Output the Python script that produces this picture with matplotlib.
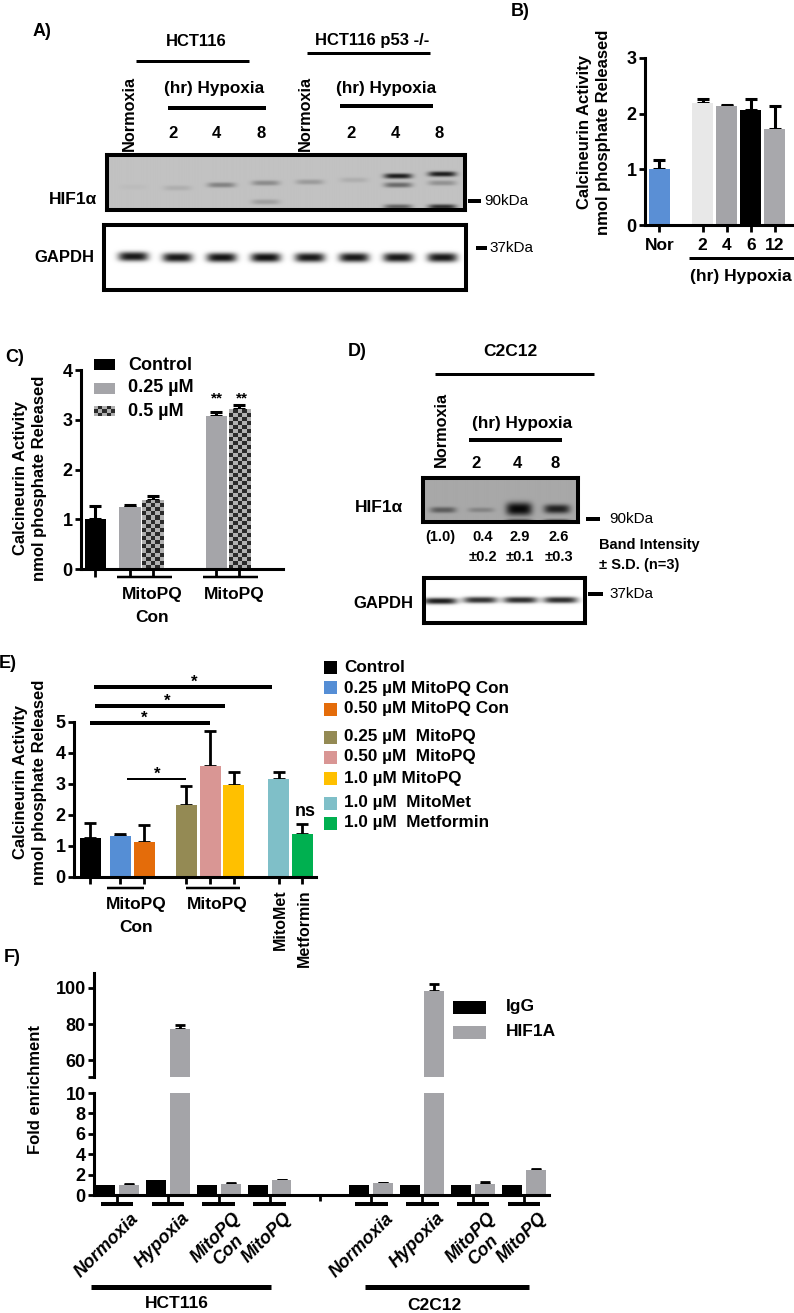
import numpy as np
import matplotlib
matplotlib.use('Agg')
import matplotlib.pyplot as plt
from matplotlib.lines import Line2D
from matplotlib.patches import Rectangle
from matplotlib.colors import ListedColormap
from matplotlib import font_manager as fm

plt.rcParams['font.family'] = ['Liberation Sans', 'DejaVu Sans']
plt.rcParams['font.weight'] = 'bold'
plt.rcParams['axes.labelweight'] = 'bold'

_avail = {f.name for f in fm.fontManager.ttflist}
if 'Liberation Sans Narrow' in _avail:
    NARROW = dict(family=['Liberation Sans Narrow', 'Liberation Sans', 'DejaVu Sans'])
    NS = 1.2
else:
    NARROW = dict(family=['Liberation Sans', 'DejaVu Sans'])
    NS = 1.0

# ======================= DATA =======================
# Panel A: western blot (HCT116 / HCT116 p53-/-), 8 lanes
A_lane_labels = ['Normoxia', '2', '4', '8', 'Normoxia', '2', '4', '8']
A_hif_lane = [0, 1, 2, 3, 3, 4, 5, 6, 6, 6, 7, 7, 7]
A_hif_mig = [32, 33, 30, 28, 47, 27, 25, 21, 30, 52, 19, 28, 52]
A_hif_int = [0.03, 0.10, 0.33, 0.28, 0.18, 0.20, 0.10, 0.85, 0.45, 0.50, 0.85, 0.25, 0.75]
A_gapdh_lane = [0, 1, 2, 3, 4, 5, 6, 7]
A_gapdh_mig = [32, 33, 33, 33, 33, 33, 33, 33]
A_gapdh_int = [0.90, 0.90, 0.92, 0.93, 0.90, 0.90, 0.90, 0.90]

# Panel B: calcineurin activity vs hypoxia time
B_cats = ['Nor', '2', '4', '6', '12']
B_vals = [1.00, 2.20, 2.14, 2.06, 1.72]
B_err = [0.17, 0.06, 0.02, 0.21, 0.42]
B_colors = ['#5a8fd5', '#e8e8e8', '#a4a4a8', '#000000', '#a8a8ac']

# Panel C: MitoPQ Con / MitoPQ
C_legend = ['Control', '0.25 µM', '0.5 µM']
C_series = ['Control', '0.25 µM', '0.5 µM', '0.25 µM', '0.5 µM']
C_vals = [1.00, 1.24, 1.39, 3.07, 3.21]
C_err = [0.26, 0.04, 0.08, 0.09, 0.08]

# Panel D: C2C12 blot
D_lane_labels = ['Normoxia', '2', '4', '8']
D_band_intensity = ['(1.0)', '0.4', '2.9', '2.6']
D_band_sd = ['', '±0.2', '±0.1', '±0.3']
D_hif_lane = [0, 1, 2, 3, 2, 3]
D_hif_mig = [32, 32, 31, 31, 42, 42]
D_hif_int = [0.45, 0.22, 0.95, 0.80, 0.35, 0.35]
D_hif_spread = [3.0, 2.5, 6.5, 4.5, 1.3, 1.3]
D_gapdh_lane = [0, 1, 2, 3]
D_gapdh_mig = [23, 22, 22, 22]
D_gapdh_int = [0.88, 0.80, 0.82, 0.82]

# Panel E
E_labels = ['Control', '0.25 µM MitoPQ Con', '0.50 µM MitoPQ Con', '0.25 µM  MitoPQ',
            '0.50 µM  MitoPQ', '1.0 µM MitoPQ', '1.0 µM  MitoMet', '1.0 µM  Metformin']
E_vals = [1.24, 1.31, 1.13, 2.31, 3.58, 2.95, 3.14, 1.38]
E_err = [0.48, 0.06, 0.54, 0.63, 1.12, 0.44, 0.25, 0.32]
E_colors = ['#000000', '#558ed5', '#e46c0a', '#948a54', '#d99694', '#ffc000', '#7fbfc8', '#00b050']

# Panel F: ChIP fold enrichment
F_conditions = ['Normoxia', 'Hypoxia', 'MitoPQ\nCon', 'MitoPQ']
F_cells = ['HCT116', 'C2C12']
F_igg = [1.0, 1.47, 1.0, 1.0, 1.0, 1.0, 1.0, 1.0]
F_hif = [1.0, 77.2, 1.1, 1.45, 1.15, 98.5, 1.1, 2.45]
F_hif_err = [0.1, 2.4, 0.1, 0.06, 0.06, 3.5, 0.2, 0.1]

# ======================= FIGURE =======================
W, H = 794, 1313
fig = plt.figure(figsize=(W / 100, H / 100), dpi=100)


def pax(x0, y0, x1, y1):
    return fig.add_axes([x0 / W, 1 - y1 / H, (x1 - x0) / W, (y1 - y0) / H])


def ftext(x, y, s, size=12, ha='center', va='center', **kw):
    return fig.text(x / W, 1 - y / H, s, fontsize=size, ha=ha, va=va, **kw)


def fline(x0, x1, y, lw_px=3):
    fig.add_artist(Line2D([x0 / W, x1 / W], [1 - y / H, 1 - y / H], lw=lw_px * 0.72,
                          color='black', solid_capstyle='butt', transform=fig.transFigure))


def frect(x0, y0, x1, y1, color):
    fig.add_artist(Rectangle((x0 / W, 1 - y1 / H), (x1 - x0) / W, (y1 - y0) / H,
                             transform=fig.transFigure, facecolor=color, edgecolor='none'))


def draw_blot(ax, lanes, migs, ints, spreads, bg, xlim, hpx, unit, hw):
    xs = np.linspace(xlim[0], xlim[1], 700)
    yy = np.linspace(0, hpx, int(hpx * 4))
    X, Y = np.meshgrid(xs, yy)
    img = np.full(X.shape, bg, float)
    for ln, yc, it, sy in zip(lanes, migs, ints, spreads):
        prof = np.exp(-(np.abs((X - ln) * unit) / hw) ** 4) * np.exp(-(np.abs(Y - yc) / sy) ** 2.5)
        img = img - it * bg * prof
    img = np.clip(img, 0, 1)
    ax.imshow(img, cmap='gray', vmin=0, vmax=1, extent=[xlim[0], xlim[1], hpx, 0],
              aspect='auto', interpolation='bilinear')
    ax.set_xlim(*xlim)
    ax.set_ylim(hpx, 0)
    ax.set_xticks([])
    ax.set_yticks([])
    for s in ax.spines.values():
        s.set_linewidth(2.9)


def style_axes(ax):
    for s in ['top', 'right']:
        ax.spines[s].set_visible(False)
    for s in ['left', 'bottom']:
        ax.spines[s].set_linewidth(2.2)


# ---------------- Panel A ----------------
ftext(42, 32, 'A)', size=13)
ftext(520, 11, 'B)', size=13)
ftext(196, 41, 'HCT116', size=12 * NS, **NARROW)
fline(136, 249, 61, 3)
ftext(372, 41, 'HCT116 p53 -/-', size=12 * NS, **NARROW)
fline(307, 430, 53, 3)
ftext(214, 88, '(hr) Hypoxia', size=12.3 * NS, **NARROW)
fline(168, 266, 108, 4)
ftext(386, 88, '(hr) Hypoxia', size=12.3 * NS, **NARROW)
fline(340, 433, 106, 4)
A_lane_px = [133, 176, 219, 264, 309, 354, 398, 442]
for xp, lab in zip(A_lane_px, A_lane_labels):
    if lab == 'Normoxia':
        ftext(xp - 4, 151, lab, size=11.7 * NS, rotation=90, va='bottom', **NARROW)
    else:
        ftext(xp - 3, 134, lab, size=12 * NS, **NARROW)

axA1 = pax(107, 155, 465, 210)
draw_blot(axA1, A_hif_lane, A_hif_mig, A_hif_int, [2.6] * len(A_hif_lane), 0.76,
          (-0.59, 7.51), 55, 44.2, 14)
axA2 = pax(104, 225, 466, 290)
draw_blot(axA2, A_gapdh_lane, A_gapdh_mig, A_gapdh_int, [4.6] * 8, 1.0,
          (-0.66, 7.53), 65, 44.2, 15)
ftext(73, 200, 'HIF1α', size=12.5 * NS, **NARROW)
ftext(64, 258, 'GAPDH', size=12 * NS, **NARROW)
fline(468, 481, 201, 4)
ftext(484, 201, '90kDa', size=11 * NS, ha='left', fontweight='normal', **NARROW)
fline(476, 487, 248, 4)
ftext(489, 248, '37kDa', size=11 * NS, ha='left', fontweight='normal', **NARROW)

# ---------------- Panel B ----------------
axB = pax(645, 58, 794, 225)
xB = np.array([0, 1.8, 2.8, 3.8, 4.8])
axB.bar(xB, B_vals, width=0.88, color=B_colors, zorder=2)
axB.errorbar(xB, B_vals, yerr=[np.zeros(len(B_vals)), B_err], fmt='none', ecolor='black',
             elinewidth=2.2, capsize=4, capthick=2.2, zorder=1)
axB.set_xlim(-0.6, 5.6)
axB.set_ylim(0, 3)
axB.set_yticks([0, 1, 2, 3])
axB.set_xticks(xB)
axB.set_xticklabels(B_cats)
style_axes(axB)
axB.tick_params(axis='y', length=4, width=2, labelsize=13, pad=2)
axB.tick_params(axis='x', length=5, width=2, labelsize=12.5, pad=4)
ftext(594, 132, 'Calcineurin Activity\nnmol phosphate Released', size=12, rotation=90, linespacing=1.3)
fline(689, 794, 258, 3)
ftext(741, 277, '(hr) Hypoxia', size=12.5)

# ---------------- Panel C ----------------
ftext(15, 357, 'C)', size=13)
axC = pax(81, 370, 283, 569)
xC = np.array([0, 1.5, 2.5, 5.25, 6.25])
c_face = {'Control': '#000000', '0.25 µM': '#a5a5a9', '0.5 µM': '#a8a8a8'}
barsC = axC.bar(xC, C_vals, width=0.92, color=[c_face[s] for s in C_series], zorder=2)
axC.errorbar(xC, C_vals, yerr=[np.zeros(len(C_vals)), C_err], fmt='none', ecolor='black',
             elinewidth=2.2, capsize=4, capthick=2.2, zorder=1)
checker_cmap = ListedColormap(['#b0b0b0', '#2a2a2a'])
for b, s in zip(barsC, C_series):
    if s == '0.5 µM':
        x0, w, h = b.get_x(), b.get_width(), b.get_height()
        ncx = max(1, int(round(w * 23 / 4)))
        ncy = max(1, int(round(h * 49.75 / 4)))
        chk = np.add.outer(np.arange(ncy), np.arange(ncx)) % 2
        im = axC.imshow(chk, cmap=checker_cmap, extent=[x0, x0 + w, 0, h], aspect='auto',
                        interpolation='nearest', zorder=2.5)
        im.set_clip_path(b)
axC.set_xlim(-0.63, 8.15)
axC.set_ylim(0, 4)
axC.set_yticks([0, 1, 2, 3, 4])
axC.set_xticks(xC)
axC.set_xticklabels([])
style_axes(axC)
axC.tick_params(axis='y', length=4, width=2, labelsize=13, pad=2)
axC.tick_params(axis='x', length=6, width=2)
for xp in [217, 242]:
    ftext(xp, 398, '**', size=11)
ftext(30, 478, 'Calcineurin Activity\nnmol phosphate Released', size=12, rotation=90, linespacing=1.35)
fline(117, 172, 577, 2.5)
fline(203, 258, 577, 2.5)
ftext(152, 594, 'MitoPQ', size=12.5)
ftext(152, 618, 'Con', size=12.5)
ftext(234, 594, 'MitoPQ', size=12.5)
# legend
frect(94, 359, 115, 370, '#000000')
frect(94, 383, 115, 394, '#a5a5a9')
axCl = pax(94, 406, 115, 416)
axCl.imshow(np.add.outer(np.arange(3), np.arange(5)) % 2, cmap=checker_cmap, aspect='auto',
            interpolation='nearest')
axCl.axis('off')
for yy, lab in zip([365, 388, 411], C_legend):
    ftext(128, yy, lab, size=13, ha='left')

# ---------------- Panel D ----------------
ftext(357, 352, 'D)', size=13)
ftext(510, 352, 'C2C12', size=12.5 * NS, **NARROW)
fline(435, 594, 374, 3)
ftext(522, 423, '(hr) Hypoxia', size=12.3 * NS, **NARROW)
fline(469, 562, 440, 4)
D_label_px = [441, 476, 517, 555]
for xp, lab in zip(D_label_px, D_lane_labels):
    if lab == 'Normoxia':
        ftext(xp, 467, lab, size=11.7 * NS, rotation=90, va='bottom', **NARROW)
    else:
        ftext(xp, 463, lab, size=12 * NS, **NARROW)
axD1 = pax(423, 478, 578, 522)
draw_blot(axD1, D_hif_lane, D_hif_mig, D_hif_int, D_hif_spread, 0.66,
          (-0.53, 3.55), 44, 38, 13)
axD2 = pax(424, 578, 585, 623)
draw_blot(axD2, D_gapdh_lane, D_gapdh_mig, D_gapdh_int, [3.2] * 4, 1.0,
          (-0.4, 3.63), 45, 40, 17)
ftext(379, 508, 'HIF1α', size=12.5 * NS, **NARROW)
ftext(383, 603, 'GAPDH', size=12 * NS, **NARROW)
fline(586, 600, 519, 4)
ftext(609, 519, '90kDa', size=11 * NS, ha='left', fontweight='normal', **NARROW)
fline(588, 603, 594, 4)
ftext(609, 594, '37kDa', size=11 * NS, ha='left', fontweight='normal', **NARROW)
D_num_px = [440, 483, 520, 559]
for xp, v, sd in zip(D_num_px, D_band_intensity, D_band_sd):
    ftext(xp, 537, v, size=10.5 * NS, **NARROW)
    if sd:
        ftext(xp, 557, sd, size=10.5 * NS, **NARROW)
ftext(599, 545, 'Band Intensity', size=10.5 * NS, ha='left', **NARROW)
ftext(599, 565, '± S.D. (n=3)', size=10.5 * NS, ha='left', **NARROW)

# ---------------- Panel E ----------------
ftext(8, 663, 'E)', size=13)
axE = pax(74, 721.7, 316, 876.7)
xE = np.array([0, 1.27, 2.27, 4.05, 5.05, 6.05, 7.95, 8.95])
axE.bar(xE, E_vals, width=0.89, color=E_colors, zorder=2)
axE.errorbar(xE, E_vals, yerr=[np.zeros(len(E_vals)), E_err], fmt='none', ecolor='black',
             elinewidth=2, capsize=4, capthick=2, zorder=1)
axE.set_xlim(-0.69, 9.52)
axE.set_ylim(0, 5)
axE.set_yticks([0, 1, 2, 3, 4, 5])
axE.set_xticks(xE)
axE.set_xticklabels([])
style_axes(axE)
axE.tick_params(axis='y', length=4, width=2, labelsize=13, pad=2)
axE.tick_params(axis='x', length=5, width=2)
ftext(30, 782, 'Calcineurin Activity\nnmol phosphate Released', size=12, rotation=90, linespacing=1.35)
# significance bars
fline(94, 272, 687, 4)
ftext(194, 682, '*', size=12)
fline(95, 225, 706, 4)
ftext(167, 701, '*', size=12)
fline(90, 210, 723, 4)
ftext(144, 718, '*', size=12)
fline(127, 186, 779, 2)
ftext(157, 774, '*', size=12)
ftext(305, 812, 'ns', size=13)
fline(107, 144, 888, 2.5)
fline(186, 240, 888, 2.5)
ftext(136, 905, 'MitoPQ', size=12.5)
ftext(136, 928, 'Con', size=12.5)
ftext(217, 905, 'MitoPQ', size=12.5)
ftext(280, 889, 'MitoMet', size=11.5, rotation=90, va='top')
ftext(304, 889, 'Metformin', size=11.5, rotation=90, va='top')
# legend
E_leg_y = [667, 688, 709, 737, 757, 778, 803, 823]
for yy, lab, col in zip(E_leg_y, E_labels, E_colors):
    frect(324, yy - 6.5, 337, yy + 6.5, col)
    ftext(344, yy, lab, size=12.3, ha='left')

# ---------------- Panel F ----------------
ftext(12, 957, 'F)', size=13)
xF = np.array([0, 1, 2, 3, 5, 6, 7, 8])
off, bw = 0.235, 0.39
axFu = pax(94, 973, 549, 1077)
axFl = pax(94, 1093, 549, 1195)
for ax in (axFu, axFl):
    ax.bar(xF - off, F_igg, width=bw, color='black', zorder=2)
    ax.bar(xF + off, F_hif, width=bw, color='#a4a4a8', zorder=2)
    ax.errorbar(xF + off, F_hif, yerr=[np.zeros(len(F_hif)), F_hif_err], fmt='none',
                ecolor='black', elinewidth=2, capsize=3.5, capthick=2, zorder=1)
    ax.set_xlim(-0.45, 8.49)
axFu.set_ylim(50.6, 108.3)
axFu.set_yticks([50.6, 60, 80, 100])
axFu.set_yticklabels(['', '60', '80', '100'])
for s in ['top', 'right', 'bottom']:
    axFu.spines[s].set_visible(False)
axFu.spines['left'].set_linewidth(2.2)
axFu.set_xticks([])
axFu.tick_params(axis='y', length=4, width=2, labelsize=13, pad=2)
axFl.set_ylim(0, 10)
axFl.set_yticks([0, 2, 4, 6, 8, 10])
style_axes(axFl)
axFl.set_xticks(xF)
axFl.set_xticklabels([])
axFl.set_xticks([4], minor=True)
axFl.tick_params(axis='y', length=4, width=2, labelsize=13, pad=2)
axFl.tick_params(axis='x', which='major', length=6.5, width=2)
axFl.tick_params(axis='x', which='minor', length=4.5, width=2)
xt = axFl.get_xaxis_transform()
F_labels_all = F_conditions * len(F_cells)
for g, lab in zip(xF, F_labels_all):
    axFl.plot([g - 0.32, g + 0.32], [-0.088, -0.088], transform=xt, color='black', lw=2.9,
              solid_capstyle='butt', clip_on=False)
    axFl.text(g + 0.27, -0.145, lab, transform=xt, rotation=45, rotation_mode='anchor',
              ha='right', va='top', style='italic', fontsize=13, multialignment='center',
              linespacing=1.05)
ftext(35, 1089, 'Fold enrichment', size=12, rotation=90)
frect(453, 1000.5, 486, 1013.5, '#000000')
frect(453, 1025.5, 486, 1038.5, '#a4a4a8')
ftext(506, 1007, 'IgG', size=12.5, ha='left')
ftext(506, 1032, 'HIF1A', size=12.5, ha='left')
fline(91, 271, 1287, 5)
fline(365, 529, 1287, 5)
ftext(177, 1303, F_cells[0], size=12.5)
ftext(434, 1305, F_cells[1], size=12.5)

fig.savefig('out.png', dpi=100)
